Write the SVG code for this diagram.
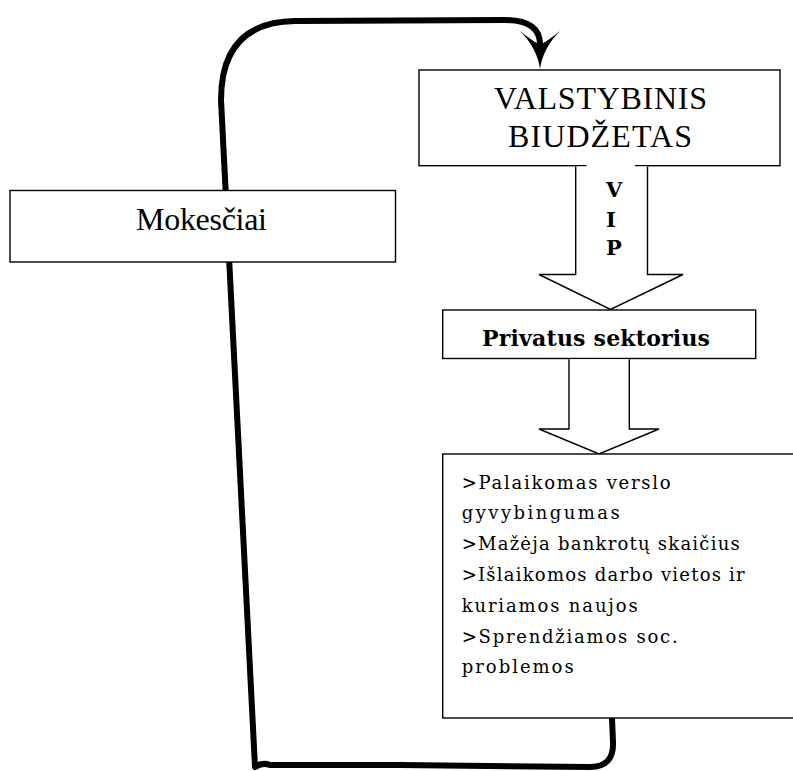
<svg xmlns="http://www.w3.org/2000/svg" width="793" height="771" viewBox="0 0 793 771">
<style>
.box{fill:#fff;stroke:#000;stroke-width:1.4}
.hol{fill:#fff;stroke:#000;stroke-width:1.4;stroke-linejoin:miter}
.big{font-family:"Liberation Serif","Times New Roman",serif;font-size:32px;fill:#000}
.bold{font-family:"DejaVu Serif","Liberation Serif",serif;font-weight:bold;fill:#000}
.sm{font-family:"DejaVu Serif","Liberation Serif",serif;font-size:18px;fill:#000}
.loop{fill:none;stroke:#000;stroke-width:6;stroke-linecap:round;stroke-linejoin:round}
</style>
<rect width="793" height="771" fill="#fff"/>
<g id="connectors">
<path class="loop" d="M612,718 L613,742 Q614,767 590,767 L400,765 L270,765 Q262,762 255,767 L221,100 Q221,22 295,21 L505,20 Q541,20 540,46"/>
<path d="M540,69 Q537,48 520,31 Q531,40 540,45 Q549,40 560,31 Q543,48 540,69 Z" fill="#000"/>
</g>
<g id="mokesciai">
<rect class="box" x="10" y="190.5" width="385.5" height="71.5"/>
<text class="big" x="136" y="229.5" textLength="131" lengthAdjust="spacing">Mokesčiai</text>
</g>
<g id="valstybinis-biudzetas">
<rect class="box" x="419" y="70" width="361" height="95.7"/>
<text class="big" x="494" y="108.5" textLength="213" lengthAdjust="spacing">VALSTYBINIS</text>
<text class="big" x="508" y="146.7" textLength="184" lengthAdjust="spacing">BIUDŽETAS</text>
</g>
<g id="arrow-vip">
<path class="hol" d="M575.7,166.5 V274.5 H539 L610.5,309.5 L683,274.5 H647.5 V166.5"/>
<rect x="586.5" y="162" width="48.5" height="6" fill="#fff"/>
<text class="bold" font-size="21" x="606" y="196.7">V</text>
<text class="bold" font-size="21" x="606" y="226.7">I</text>
<text class="bold" font-size="21" x="606" y="255">P</text>
</g>
<g id="privatus-sektorius">
<rect class="box" x="442.7" y="310" width="313" height="48.5"/>
<text class="bold" font-size="22" x="482" y="345.7" textLength="228" lengthAdjust="spacing">Privatus sektorius</text>
</g>
<g id="arrow-2">
<path class="hol" d="M569,359.2 V429 H539 L599,454 L659,429 H629.3 V359.2"/>
</g>
<g id="rezultatai">
<rect class="box" x="442.7" y="454" width="360" height="264"/>
<text class="sm" x="461.7" y="488.5" textLength="209" lengthAdjust="spacing">&gt;Palaikomas verslo</text>
<text class="sm" x="461.7" y="519.3" textLength="158" lengthAdjust="spacing">gyvybingumas</text>
<text class="sm" x="461.7" y="550.2" textLength="278" lengthAdjust="spacing">&gt;Mažėja bankrotų skaičius</text>
<text class="sm" x="461.7" y="581" textLength="283" lengthAdjust="spacing">&gt;Išlaikomos darbo vietos ir</text>
<text class="sm" x="461.7" y="611.8" textLength="176" lengthAdjust="spacing">kuriamos naujos</text>
<text class="sm" x="461.7" y="642.5" textLength="216" lengthAdjust="spacing">&gt;Sprendžiamos soc.</text>
<text class="sm" x="461.7" y="673" textLength="112" lengthAdjust="spacing">problemos</text>
</g>
</svg>
